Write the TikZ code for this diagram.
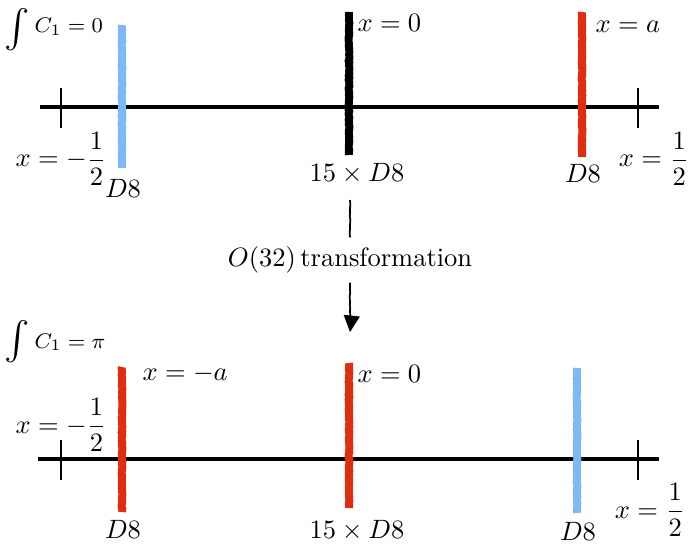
\documentclass[tikz,border=0pt]{standalone}
\usepackage{amsmath}
\usetikzlibrary{decorations.pathmorphing,arrows.meta}
\definecolor{bblue}{RGB}{125,185,245}
\definecolor{bred}{RGB}{225,45,15}
\tikzset{
  brane/.style={line width=3pt, decorate, decoration={random steps,segment length=0.8pt,amplitude=0.15pt}},
  axisline/.style={line width=1.2pt},
  tickline/.style={line width=0.45pt},
  lbl/.style={inner sep=0pt, anchor=base},
  lblw/.style={inner sep=0pt, anchor=base west},
  intsign/.style={inner sep=0pt, font=\fontsize{14}{14}\selectfont},
  roughline/.style={line width=0.65pt, decorate, decoration={random steps,segment length=1.2pt,amplitude=0.1pt}},
}
\begin{document}
\begin{tikzpicture}[x=0.3774pt,y=-0.3774pt]
\useasboundingbox (0,0) rectangle (689,550);
% ---------- top ----------
\node[intsign] (int1) at (17,30) {$\int$};
\node[lblw, font=\footnotesize] (c1) at (34,33) {$C_1=0$};
\coordinate (tL) at (40,107); \coordinate (tR) at (659,107);
\draw[axisline] (tL) -- (tR);
\coordinate (tk1a) at (61,88); \coordinate (tk1b) at (61,128);
\coordinate (tk2a) at (638,88); \coordinate (tk2b) at (638,128);
\draw[tickline] (tk1a) -- (tk1b);
\draw[tickline] (tk2a) -- (tk2b);
\coordinate (b1a) at (122,25); \coordinate (b1b) at (122,168);
\coordinate (b2a) at (349,12); \coordinate (b2b) at (349,155);
\coordinate (b3a) at (582,12); \coordinate (b3b) at (582,157);
\draw[brane, bblue] (b1a) -- (b1b);
\draw[brane, black] (b2a) -- (b2b);
\draw[brane, bred] (b3a) -- (b3b);
\node[lbl] (xl1) at (61,167) {$\displaystyle x=-\frac{1}{2}$};
\node[lbl] (xr1) at (654,167) {$\displaystyle x=\frac{1}{2}$};
\node[lblw] (x01) at (357,32) {$x=0$};
\node[lblw] (xa1) at (595,33) {$x=a$};
\node[lbl] (d1) at (123,197) {$D8$};
\node[lbl] (d2) at (357,182) {$15\times D8$};
\node[lbl] (d3) at (583,183) {$D8$};
% ---------- transformation ----------
\coordinate (ar0) at (350,200);
\node (tr) at (350,260) {$O(32)\,$transformation};
\coordinate (ar1) at (350,332);
\draw[roughline] (ar0) -- (tr.north);
\draw[roughline, -{Triangle[width=6pt,length=6.2pt]}] (tr.south) -- (ar1);
% ---------- bottom ----------
\node[intsign] (int2) at (17,342) {$\int$};
\node[lblw, font=\footnotesize] (c2) at (34,348) {$C_1=\pi$};
\coordinate (bL) at (38,459); \coordinate (bR) at (659,459);
\draw[axisline] (bL) -- (bR);
\coordinate (tk3a) at (61,440); \coordinate (tk3b) at (61,480);
\coordinate (tk4a) at (638,440); \coordinate (tk4b) at (638,480);
\draw[tickline] (tk3a) -- (tk3b);
\draw[tickline] (tk4a) -- (tk4b);
\coordinate (c1a) at (122,367); \coordinate (c1b) at (122,512);
\coordinate (c2a) at (349,363); \coordinate (c2b) at (349,508);
\coordinate (c3a) at (577,368); \coordinate (c3b) at (577,513);
\draw[brane, bred] (c1a) -- (c1b);
\draw[brane, bred] (c2a) -- (c2b);
\draw[brane, bblue] (c3a) -- (c3b);
\node[lbl] (xl2) at (61,433) {$\displaystyle x=-\frac{1}{2}$};
\node[lbl] (xr2) at (650,518) {$\displaystyle x=\frac{1}{2}$};
\node[lblw] (x02) at (357,382) {$x=0$};
\node[lblw] (xa2) at (142,380) {$x=-a$};
\node[lbl] (e1) at (123,538) {$D8$};
\node[lbl] (e2) at (357,538) {$15\times D8$};
\node[lbl] (e3) at (578,540) {$D8$};
\end{tikzpicture}
\end{document}
